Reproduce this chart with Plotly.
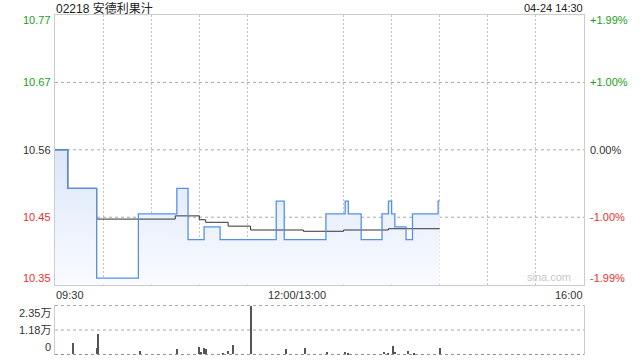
import plotly.graph_objects as go

DAY = "2024-04-24"
title_text = "02218 安德利果汁"
stamp_text = "04-24 14:30"
prev_close = 10.56
pct_limit = 1.99

# price (step changes)
price_times = ["09:30", "09:38", "09:56", "10:22", "10:46", "10:53", "11:03", "11:13",
               "11:48", "11:53", "13:19", "13:31", "13:33", "13:41", "13:54", "13:58",
               "14:00", "14:02", "14:09", "14:13", "14:29", "14:30"]
price_values = [10.56, 10.50, 10.36, 10.46, 10.50, 10.42, 10.44, 10.42,
                10.48, 10.42, 10.46, 10.48, 10.46, 10.42, 10.46, 10.48,
                10.46, 10.44, 10.42, 10.46, 10.48, 10.48]

# average price
avg_times = ["09:30", "09:38", "09:56", "10:45", "11:00", "11:04", "11:18", "11:32",
             "13:05", "13:30", "13:58", "14:30"]
avg_values = [10.56, 10.50, 10.452, 10.457, 10.451, 10.447, 10.441, 10.435,
              10.433, 10.435, 10.437, 10.437]

# volume (shares)
vol_times = ["09:41", "09:56", "09:57", "10:23", "10:46", "11:00", "11:01", "11:03",
             "11:04", "11:15", "11:18", "11:21", "11:32", "11:54", "13:06", "13:20",
             "13:31", "13:33", "13:55", "13:58", "14:01", "14:02", "14:10", "14:14", "14:30"]
vol_values = [5300, 3100, 9700, 1900, 2400, 3400, 1000, 3000,
              2400, 800, 1900, 4700, 23500, 2400, 3300, 1400,
              1400, 600, 1400, 800, 4200, 1000, 1900, 600, 3000]

# axis labels / grid
session = ["09:30", "16:00"]
line_span = ["09:30", "11:59", "13:01", "16:00"]
grid_times = ["10:00", "10:30", "11:00", "11:30", "12:00", "13:30", "14:00",
              "14:30", "15:00", "15:30"]
price_levels_pct = [1.99, 0.995, 0.0, -0.995, -1.99]
left_labels = ["10.77", "10.67", "10.56", "10.45", "10.35"]
right_labels = ["+1.99%", "+1.00%", "0.00%", "-1.00%", "-1.99%"]
x_label_times = ["09:30", "12:00", "16:00"]
x_label_texts = ["09:30", "12:00/13:00", "16:00"]
vol_levels = [23500, 11750, 0]
vol_labels = ["2.35万", "1.18万", "0"]

FONT = "Liberation Sans, Arial, Noto Sans CJK SC, sans-serif"
GREEN = "#1a9e1a"
RED = "#e8312f"
GRAY_TXT = "#333333"
BLUE = "#5590ec"
DOT = "2px,2px"


def ts(t):
    return f"{DAY} {t}"


px = [ts(t) for t in price_times]
ax_ = [ts(t) for t in avg_times]
vx = [ts(t) for t in vol_times]
xrange = [ts(t) for t in session]
span_x = [ts(t) for t in line_span]

lo = prev_close * (1 - pct_limit / 100)
hi = prev_close * (1 + pct_limit / 100)
levels = [prev_close * (1 + p / 100) for p in price_levels_pct]
mid_levels = levels[1:-1]

fig = go.Figure()

# horizontal dotted reference lines (beneath the data)
for lv in mid_levels:
    fig.add_trace(go.Scatter(x=span_x, y=[lv] * len(span_x), mode="lines",
                             line=dict(color="#a8a8a8", width=1, dash="dot"),
                             connectgaps=True,
                             hoverinfo="skip", showlegend=False, xaxis="x", yaxis="y"))
for lv in vol_levels:
    fig.add_trace(go.Scatter(x=span_x, y=[lv] * len(span_x), mode="lines",
                             line=dict(color="#909090" if lv == 0 else "#a8a8a8",
                                       width=1, dash="dot"),
                             connectgaps=True,
                             hoverinfo="skip", showlegend=False, xaxis="x2", yaxis="y2"))

# fill under price
fig.add_trace(go.Scatter(
    x=px, y=price_values, mode="lines", line=dict(width=0, shape="hv"),
    fill="tozeroy",
    fillgradient=dict(type="vertical", start=lo, stop=prev_close,
                      colorscale=[[0, "#f9fbff"], [1, "#dce7fa"]]),
    hoverinfo="skip", showlegend=False, xaxis="x", yaxis="y"))
# average line
fig.add_trace(go.Scatter(
    x=ax_, y=avg_values, mode="lines", line=dict(color="#333333", width=1, shape="hv"),
    showlegend=False, xaxis="x", yaxis="y"))
# price line
fig.add_trace(go.Scatter(
    x=px, y=price_values, mode="lines", line=dict(color=BLUE, width=1.3, shape="hv"),
    showlegend=False, xaxis="x", yaxis="y"))
# volume
fig.add_trace(go.Bar(
    x=vx, y=vol_values, width=40000, marker=dict(color="#555555", line=dict(width=0)),
    showlegend=False, xaxis="x2", yaxis="y2"))

rb = [dict(bounds=[12, 13], pattern="hour")]
MAIN_BOTTOM = 0.207
VOL_TOP = 0.147

fig.update_layout(
    width=640, height=360,
    margin=dict(l=55, r=56, t=15, b=5),
    paper_bgcolor="white", plot_bgcolor="white",
    font=dict(family=FONT, size=11, color=GRAY_TXT),
    bargap=0,
    xaxis=dict(type="date", range=xrange, rangebreaks=rb, domain=[0, 1], anchor="y",
               tickmode="array", tickvals=[ts(t) for t in grid_times],
               showgrid=True, gridcolor="#c4c4c4", griddash=DOT, gridwidth=1,
               showticklabels=False, ticks="",
               showline=True, mirror=True, linecolor="#cccccc", linewidth=1, zeroline=False),
    yaxis=dict(range=[lo, hi], domain=[MAIN_BOTTOM, 1], anchor="x",
               showgrid=False, showticklabels=False, ticks="",
               showline=True, mirror=True, linecolor="#cccccc", linewidth=1, zeroline=False),
    xaxis2=dict(type="date", range=xrange, rangebreaks=rb, domain=[0, 1], anchor="y2",
                matches="x", showgrid=False, showticklabels=False, ticks="",
                showline=False, zeroline=False),
    yaxis2=dict(range=[-250, 23750], domain=[0, VOL_TOP], anchor="x2",
                showgrid=False, showticklabels=False, ticks="",
                showline=True, mirror=True, linecolor="#cccccc", linewidth=1, zeroline=False),
)

ann = []
colors = [GREEN, GREEN, GRAY_TXT, RED, RED]
shifts = [-5, 0, 0, 0, 7]
for lv, lt, rt, c, s in zip(levels, left_labels, right_labels, colors, shifts):
    ann.append(dict(x=0, xref="paper", y=lv, yref="y", text=lt, showarrow=False,
                    xanchor="right", yanchor="middle", xshift=-2, yshift=s,
                    font=dict(size=11, color=c)))
    ann.append(dict(x=1, xref="paper", y=lv, yref="y", text=rt, showarrow=False,
                    xanchor="left", yanchor="middle", xshift=4, yshift=s,
                    font=dict(size=11, color=c)))

anchors = ["left", "center", "right"]
xsh = [-1, 2, 1]
for t, txt, a, xs in zip(x_label_times, x_label_texts, anchors, xsh):
    ann.append(dict(x=ts(t), xref="x", y=0, yref="y domain", text=txt, showarrow=False,
                    xanchor=a, yanchor="top", xshift=xs, yshift=-2,
                    font=dict(size=11, color=GRAY_TXT)))

vshifts = [-7, 0, 7]
for lv, txt, s in zip(vol_levels, vol_labels, vshifts):
    ann.append(dict(x=0, xref="paper", y=lv, yref="y2", text=txt, showarrow=False,
                    xanchor="right", yanchor="middle", xshift=-2, yshift=s,
                    font=dict(size=11, color=GRAY_TXT)))

ann.append(dict(x=0, xref="paper", y=1, yref="paper", text=title_text, showarrow=False,
                xanchor="left", yanchor="middle", xshift=-1, yshift=7,
                font=dict(size=12, color="#222222")))
ann.append(dict(x=1, xref="paper", y=1, yref="paper", text=stamp_text, showarrow=False,
                xanchor="right", yanchor="middle", xshift=1, yshift=7,
                font=dict(size=11, color="#222222")))
ann.append(dict(x=0.98, xref="paper", y=0, yref="y domain", text="sina.com", showarrow=False,
                xanchor="right", yanchor="bottom", yshift=0,
                font=dict(size=11, color="#c8c8c8")))

fig.update_layout(annotations=ann)
fig.write_html("out.html")
